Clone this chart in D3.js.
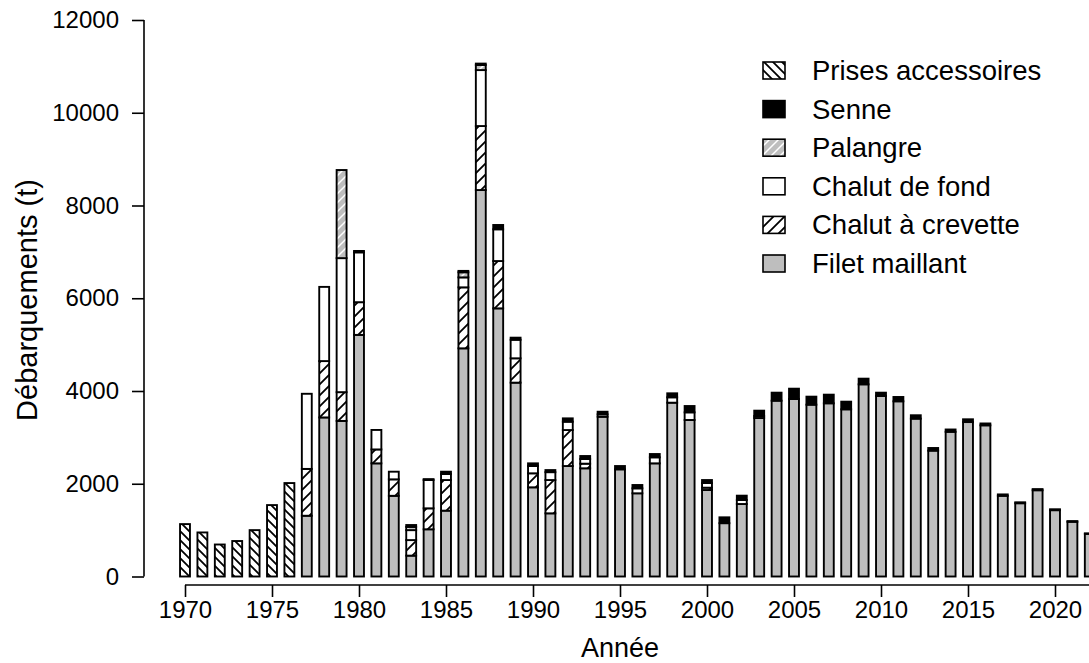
<!DOCTYPE html>
<html>
<head>
<meta charset="utf-8">
<script src="https://cdn.jsdelivr.net/npm/d3@7"></script>
<style>
html,body{margin:0;padding:0;background:#fff;}
svg{display:block;font-family:"Liberation Sans",Arial,sans-serif;}
</style>
</head>
<body>
<svg id="chart" width="1089" height="663"></svg>
<script>
// ---- data ----
const years = d3.range(1970, 2023);
const filetMaillant = [0,0,0,0,0,0,0,1310,3430,3355,5210,2440,1740,450,1018,1420,4920,8333,5782,4180,
  1923,1362,2382,2333,3445,2311,1794,2440,3748,3375,1865,1150,1563,3418,3791,3827,3705,3735,3605,4144,
  3893,3778,3404,2714,3120,3330,3260,1740,1580,1860,1430,1180,920];
const chalutCrevette = [0,0,0,0,0,0,0,1010,1215,620,705,300,355,335,452,660,1315,1380,1020,525,
  302,718,776,100,0,0,0,0,0,0,50,0,0,0,0,0,0,0,0,0,
  0,0,0,0,0,0,0,0,0,0,0,0,0];
const chalutFond = [0,0,0,0,0,0,0,1620,1600,2890,1075,420,165,215,610,130,215,1207,685,400,
  157,170,180,100,52,0,107,130,116,165,100,0,86,43,0,0,0,0,0,0,
  0,0,0,0,0,0,0,0,0,0,0,0,0];
const palangre = [0,0,0,0,0,0,0,0,0,1900,0,0,0,70,0,0,110,110,0,0,
  0,0,0,0,0,0,0,0,0,0,0,0,0,0,0,0,0,0,0,0,
  0,0,0,0,0,0,0,0,0,0,0,0,0];
const senne = [0,0,0,0,0,0,0,0,0,0,30,0,0,40,20,50,30,30,93,45,
  58,45,72,65,56,71,72,71,86,136,65,126,94,115,173,223,173,186,165,122,
  71,93,73,57,50,60,40,30,20,25,20,15,10];
const prisesAccessoires = [1130,950,690,765,1000,1540,2015,0,0,0,0,0,0,0,0,0,0,0,0,0,
  0,0,0,0,0,0,0,0,0,0,0,0,0,0,0,0,0,0,0,0,
  0,0,0,0,0,0,0,0,0,0,0,0,0];
const seriesNames = ["Filet maillant","Chalut à crevette","Chalut de fond","Palangre","Senne","Prises accessoires"];
const seriesValues = [filetMaillant, chalutCrevette, chalutFond, palangre, senne, prisesAccessoires];
const yTicks = [0,2000,4000,6000,8000,10000,12000];
const xTicks = d3.range(1970, 2021, 5);

// ---- layout ----
const svg = d3.select("#chart");
const x = d3.scaleLinear().domain([1970, 2020]).range([185, 1055]);
const y = d3.scaleLinear().domain([0, 12000]).range([576.5, 20]);
const barW = 0.57 * (x(1971) - x(1970));
const FONT = "Liberation Sans, Arial, sans-serif";

// patterns
const defs = svg.append("defs");
function hatch(id, bg, fg, dir, p, sw) {
  const pat = defs.append("pattern").attr("id", id).attr("patternUnits","userSpaceOnUse")
    .attr("width", p).attr("height", p);
  pat.append("rect").attr("width", p).attr("height", p).attr("fill", bg);
  const d = dir === "/"
    ? `M-1,1 l2,-2 M0,${p} l${p},${-p} M${p-1},${p+1} l2,-2`
    : `M-1,${p-1} l2,2 M0,0 l${p},${p} M${p-1},-1 l2,2`;
  pat.append("path").attr("d", d).attr("stroke", fg).attr("stroke-width", sw).attr("fill","none");
}
hatch("pCrev", "#ffffff", "#000000", "/", 11, 1.8);
hatch("pPal", "#bebebe", "#ffffff", "/", 9, 1.5);
hatch("pPrises", "#ffffff", "#000000", "\\", 9, 1.8);
const fills = ["#bebebe", "url(#pCrev)", "#ffffff", "url(#pPal)", "#000000", "url(#pPrises)"];

// stacked data
const table = years.map((yr, i) => {
  const o = {year: yr};
  seriesNames.forEach((n, k) => o[n] = seriesValues[k][i]);
  return o;
});
const stack = d3.stack().keys(seriesNames)(table);

const g = svg.append("g");
stack.forEach((layer, k) => {
  g.selectAll(null).data(layer.filter(d => d[1] - d[0] > 0)).enter().append("rect")
    .attr("x", d => x(d.data.year) - barW / 2)
    .attr("width", barW)
    .attr("y", d => y(d[1]))
    .attr("height", d => y(d[0]) - y(d[1]))
    .attr("fill", fills[k])
    .attr("stroke", "#000")
    .attr("stroke-width", 1.9);
});

// y axis
const yAxis = svg.append("g").attr("transform", "translate(144,0)")
  .call(d3.axisLeft(y).tickValues(yTicks).tickSize(12).tickPadding(13).tickFormat(d3.format("d")));
yAxis.select(".domain").attr("d", `M0,${y(0)}V${y(12000)}`).attr("stroke-width", 1.6);
yAxis.selectAll(".tick line").attr("stroke-width", 1.6);
yAxis.selectAll("text").attr("font-size", 24).attr("fill", "#000").attr("font-family", FONT);

// x axis
const xAxis = svg.append("g").attr("transform", "translate(0,585)")
  .call(d3.axisBottom(x).tickValues(xTicks).tickSize(12).tickPadding(4).tickFormat(d3.format("d")));
xAxis.select(".domain").attr("d", `M${x(1970)},0H1100`).attr("stroke-width", 1.6);
xAxis.selectAll(".tick line").attr("stroke-width", 1.6);
xAxis.selectAll("text").attr("font-size", 24).attr("fill", "#000").attr("font-family", FONT);

// titles
svg.append("text").attr("transform", "translate(27,300) rotate(-90)")
  .attr("text-anchor", "middle").attr("dominant-baseline", "central")
  .attr("font-size", 29).text("Débarquements (t)");
svg.append("text").attr("x", 620).attr("y", 648)
  .attr("text-anchor", "middle").attr("dominant-baseline", "central")
  .attr("font-size", 27).text("Année");

// legend
const legOrder = [5, 4, 3, 2, 1, 0];
const leg = svg.append("g");
legOrder.forEach((k, i) => {
  const cy = 70.5 + i * 38.6;
  leg.append("rect").attr("x", 763).attr("y", cy - 8.5).attr("width", 22).attr("height", 17)
    .attr("fill", fills[k]).attr("stroke", "#000").attr("stroke-width", 1.6);
  leg.append("text").attr("x", 812).attr("y", cy).attr("dominant-baseline", "central")
    .attr("font-size", 27.5).text(seriesNames[k]);
});
</script>
</body>
</html>
